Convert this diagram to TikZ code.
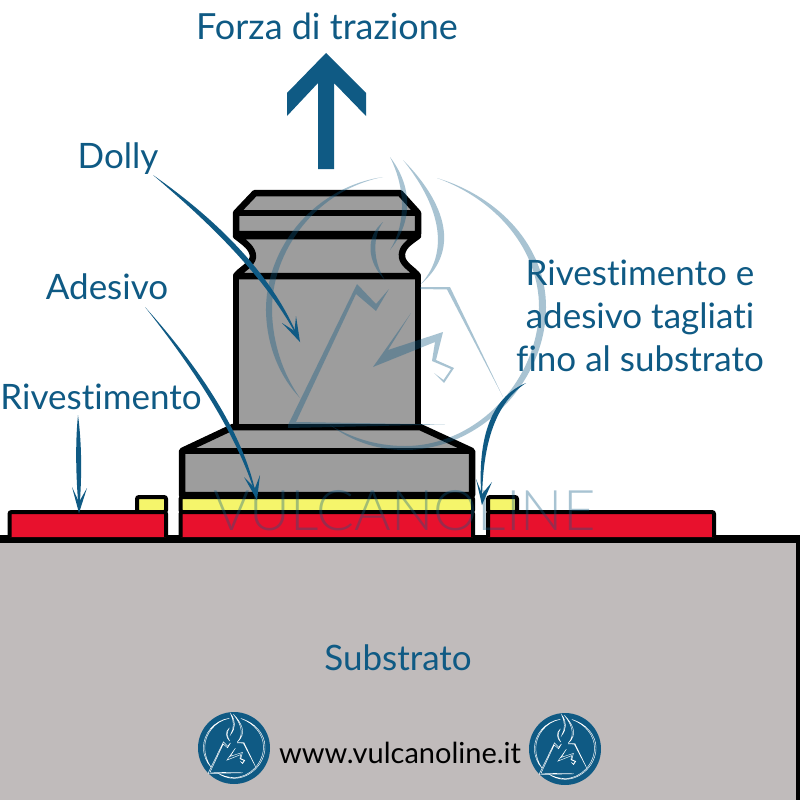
\documentclass[tikz,border=0pt]{standalone}
\usepackage{fontspec}
\setmainfont{Lato}[Ligatures=NoCommon]
\newfontfamily\marklight{Lato}[UprightFont=* Light]
\usepackage{xcolor}
\usetikzlibrary{positioning}
\definecolor{vulcanblue}{HTML}{0F5A84}
\definecolor{dollygray}{HTML}{9D9D9D}
\definecolor{substrategray}{HTML}{C0BBBB}
\definecolor{coatingred}{HTML}{E8112D}
\definecolor{adhesiveyellow}{HTML}{F5F56B}

\begin{document}
\begin{tikzpicture}[
        x=1pt, y=-1pt,
        label/.style={text=vulcanblue, font=\fontsize{35}{43}\selectfont, anchor=base, inner sep=0pt},
        dollyline/.style={draw=black, fill=dollygray, line width=6.5pt, line join=round},
        coat/.style={draw=black, line width=4pt, rounded corners=2pt},
        leader/.style={fill=vulcanblue},
        markfill/.style={fill=vulcanblue, fill opacity=0.36},
        marklogo/.style={fill=vulcanblue, draw=white, line width=0.45pt},
        logodisc/.style={circle, fill=vulcanblue, minimum size=72pt, inner sep=0pt},
        vulcanmark/.pic={
            % ring
            \path[pic actions] (-22,-135) .. controls (-90,-125) and (-140,-65) .. (-139,0) .. controls (-138,35) and (-125,65) .. (-105,86) .. controls (-122,62) and (-132,32) .. (-133,0) .. controls (-134,-62) and (-88,-122) .. cycle;
            \path[pic actions] (32,-134) .. controls (95,-115) and (141,-65) .. (141,-5) .. controls (141,70) and (75,138) .. (0,138) .. controls (-30,138) and (-55,128) .. (-75,113) .. controls (-55,125) and (-30,134) .. (0,134) .. controls (72,134) and (134,68) .. (134,-5) .. controls (134,-62) and (92,-112) .. cycle;
            % mountain
            \path[pic actions] (-117,113) -- (-48,-28) -- (-29,-8) -- (-16,-23) -- (-29,-1) -- (-49,-18) -- (-109,110) -- (40,112.5) -- (-117,116) -- cycle;
            \path[pic actions] (15,-25) -- (45,-25) -- (98,85) -- (42,-22.5) -- (15,-23) -- cycle;
            % bolt
            \path[pic actions] (6,1) -- (-32,55) -- (30,30) -- (27,49) -- (46,57) -- (38.5,68) -- (29,61) -- (39,71) -- (49,56) -- (31,48) -- (38,20) -- (-17,38) -- cycle;
            % flame
            \path[pic actions] (-15,-155) .. controls (8,-125) and (8,-90) .. (-15,-62) .. controls (2,-90) and (0,-125) .. cycle;
            \path[pic actions] (-2,-152) .. controls (35,-115) and (60,-65) .. (15,-27) .. controls (50,-65) and (28,-115) .. cycle;
            \path[pic actions] (-22,-90) .. controls (-40,-75) and (-38,-50) .. (-20,-32) .. controls (-32,-50) and (-33,-75) .. cycle;
        }
    ]
        \useasboundingbox (0,0) rectangle (800,800);
        \clip (0,0) rectangle (800,800);
        \fill[white] (0,0) rectangle (800,800);

        % Substrate
        \draw[fill=substrategray, line width=8pt] (-10,539) rectangle (800,810);

        % Coating and adhesive
        \draw[coat, fill=adhesiveyellow] (137,512) rectangle (166,497);
        \draw[coat, fill=coatingred] (9.5,537) -- (9.5,512) -- (166,512) -- (166,537);
        \draw[coat, fill=adhesiveyellow] (180.5,512) rectangle (473,497);
        \draw[coat, fill=coatingred] (180.5,537) -- (180.5,512) -- (473,512) -- (473,537);
        \draw[coat, fill=adhesiveyellow] (488,512) rectangle (517,497);
        \draw[coat, fill=coatingred] (488,537) -- (488,512) -- (714,512) -- (714,537);

        % Dolly
        \draw[dollyline] (182,451) -- (233,427) -- (420,427) -- (472,451) -- (472,495) -- (182,495) -- cycle;
        \draw[dollyline] (182,451) -- (472,451);
        \draw[dollyline] (236,427) -- (236,276) -- (418,276) -- (418,427) -- cycle;
        \draw[dollyline] (236,276) .. controls (240,270) and (252,265) .. (253,257) .. controls (253,248) and (245,243) .. (236,236) -- (418,236) .. controls (408,243) and (401,248) .. (402,257) .. controls (403,265) and (414,270) .. (418,276) -- cycle;
        \draw[dollyline] (236,234) -- (236,213) -- (255,193) -- (400,193) -- (418,213) -- (418,234) -- cycle;
        \draw[dollyline] (236,213) -- (418,213);

        % Watermark
        \pic[markfill] at (405,312) {vulcanmark};
        \node[text=vulcanblue, text opacity=0.36, font=\marklight\fontsize{56}{56}\selectfont, anchor=base west, inner sep=0pt] (mark_text) at (213,530) {VULCANOLINE};

        % Pull force
        \node[label, font=\fontsize{36}{43}\selectfont] (force_title) at (327,40) {Forza di trazione};
        \fill[vulcanblue] (326,53) -- (366,93) -- (366,116) -- (334,83) -- (334,169) -- (318,169) -- (318,83) -- (287,116) -- (287,93) -- cycle;

        % Labels
        \node[label] (dolly_label) at (118,168) {Dolly};
        \node[label] (adhesive_label) at (107,299) {Adesivo};
        \node[label] (coating_label) at (101,409) {Rivestimento};
        \node[label, align=center, anchor=center] (cut_label) at (640,316) {Rivestimento e\\adesivo tagliati\\fino al substrato};
        \node[label] (substrate_label) at (398,670) {Substrato};

        % Leaders
        \coordinate (dolly_tail) at (153,175);
        \coordinate (dolly_tip) at (300,342);
        \fill[leader] (dolly_tail) .. controls (200,208) and (270,265) .. (dolly_tip) .. controls (263,270) and (196,212) .. cycle;
        \fill[leader] (dolly_tip) -- (282,323) -- (294.5,331) -- (296,316) -- cycle;

        \coordinate (adhesive_tail) at (145,307);
        \coordinate (adhesive_tip) at (257,500);
        \fill[leader] (adhesive_tail) .. controls (190,357) and (245,430) .. (adhesive_tip) .. controls (238,433) and (187,360) .. cycle;
        \fill[leader] (adhesive_tip) -- (244,477) -- (255,488) -- (260,475) -- cycle;

        \coordinate (coating_tail) at (78,415);
        \coordinate (coating_tip) at (79,513);
        \fill[leader] (coating_tail) .. controls (82,445) and (82,480) .. (coating_tip) .. controls (76,480) and (75,445) .. cycle;
        \fill[leader] (coating_tip) -- (72,487) -- (79,502) -- (87,488) -- cycle;

        \coordinate (cut_tail) at (526,383);
        \coordinate (cut_tip) at (482,505);
        \fill[leader] (cut_tail) .. controls (497,402) and (482,440) .. (cut_tip) .. controls (476,440) and (490,398) .. cycle;
        \fill[leader] (cut_tip) -- (476,479) -- (482,494) -- (492,482) -- cycle;

        % Website
        \node[logodisc] (logo_left) at (234,748) {};
        \node[logodisc] (logo_right) at (565,749) {};
        \pic[marklogo, scale=0.22] at (logo_left) {vulcanmark};
        \pic[marklogo, scale=0.22] at (logo_right) {vulcanmark};
        \node[font=\fontsize{29}{29}\selectfont, anchor=base, inner sep=0pt] (site_label) at (400,763) {www.vulcanoline.it};
    \end{tikzpicture}
\end{document}
